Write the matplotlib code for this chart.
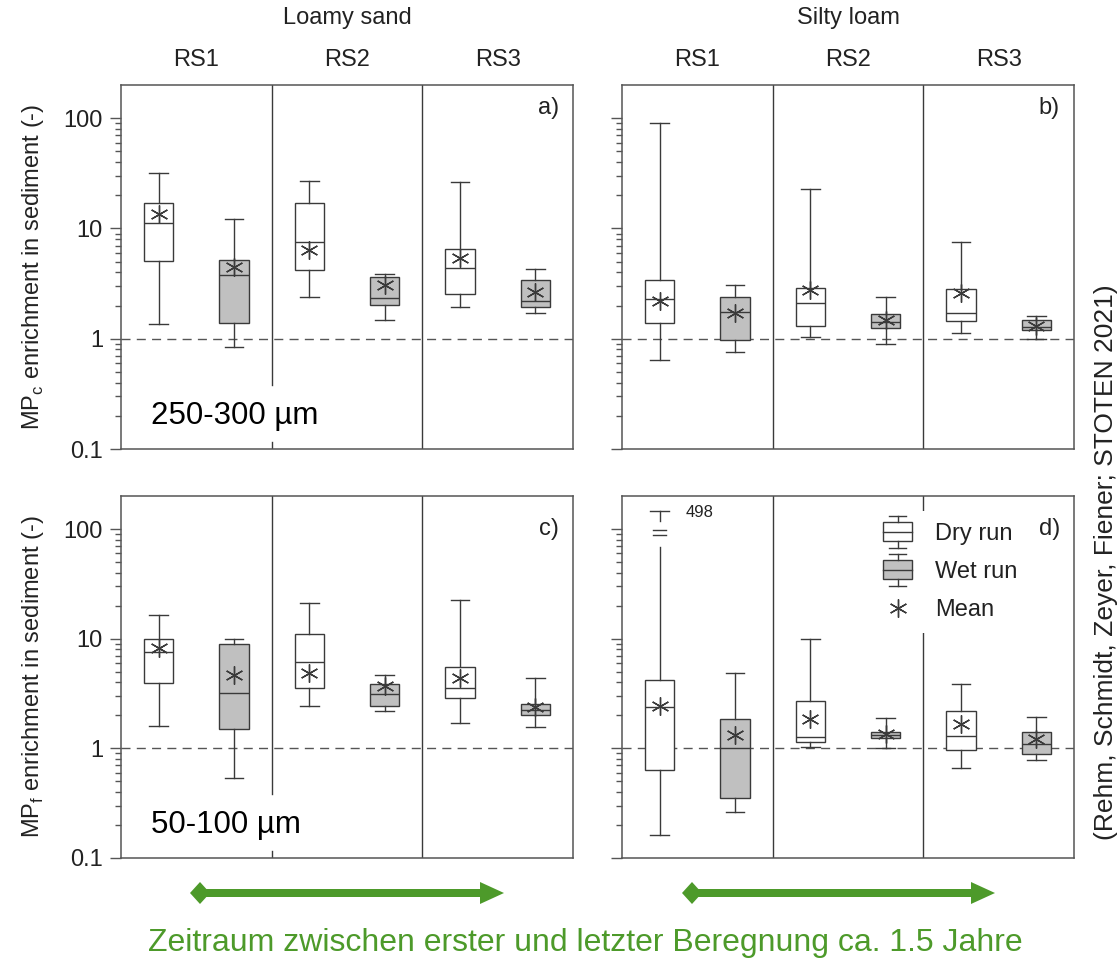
import matplotlib
matplotlib.use('Agg')
import matplotlib.pyplot as plt
import matplotlib.transforms as mtransforms
from matplotlib.patches import Rectangle, Polygon, Patch
from matplotlib.lines import Line2D
from matplotlib.legend_handler import HandlerBase
from matplotlib.ticker import NullFormatter, FixedLocator

plt.rcParams['font.family'] = ['Liberation Sans', 'DejaVu Sans']

# ---- data ----
soils = ['Loamy sand', 'Silty loam']
groups = ['RS1', 'RS2', 'RS3']
# box order: RS1 dry, RS1 wet, RS2 dry, RS2 wet, RS3 dry, RS3 wet

# a) coarse MP, loamy sand
a_lo = [1.36, 0.85, 2.40, 1.48, 1.95, 1.72]
a_q1 = [5.08, 1.38, 4.18, 2.02, 2.57, 1.94]
a_med = [11.1, 3.77, 7.55, 2.36, 4.39, 2.18]
a_q3 = [16.9, 5.22, 16.9, 3.62, 6.48, 3.42]
a_hi = [32.0, 12.2, 26.9, 3.87, 26.2, 4.33]
a_mean = [13.4, 4.45, 6.35, 3.10, 5.44, 2.68]

# b) coarse MP, silty loam
b_lo = [0.64, 0.76, 1.04, 0.90, 1.13, 1.00]
b_q1 = [1.38, 0.97, 1.30, 1.25, 1.46, 1.19]
b_med = [2.27, 1.74, 2.13, 1.41, 1.71, 1.29]
b_q3 = [3.40, 2.38, 2.88, 1.69, 2.85, 1.47]
b_hi = [90.6, 3.06, 22.8, 2.40, 7.50, 1.61]
b_mean = [2.21, 1.71, 2.77, 1.47, 2.59, 1.31]

# c) fine MP, loamy sand
c_lo = [1.60, 0.535, 2.42, 2.21, 1.72, 1.56]
c_q1 = [3.98, 1.51, 3.56, 2.43, 2.85, 2.02]
c_med = [7.5, 3.19, 6.13, 3.13, 3.54, 2.25]
c_q3 = [9.96, 8.97, 11.1, 3.87, 5.52, 2.52]
c_hi = [16.6, 9.9, 21.1, 4.71, 22.3, 4.39]
c_mean = [8.26, 4.67, 4.91, 3.74, 4.42, 2.36]

# d) fine MP, silty loam
d_lo = [0.163, 0.265, 1.02, 1.00, 0.668, 0.779]
d_q1 = [0.637, 0.351, 1.14, 1.25, 0.96, 0.883]
d_med = [2.38, 1.00, 1.28, 1.33, 1.30, 1.10]
d_q3 = [4.21, 1.86, 2.70, 1.41, 2.18, 1.40]
d_hi = [145, 4.87, 9.96, 1.88, 3.87, 1.92]
d_mean = [2.45, 1.33, 1.87, 1.36, 1.65, 1.21]
d_max_label = '498'
d_gap = [69, 118]        # axis break on RS1 dry whisker
d_break_marks = [97, 88]

size_labels = ['250-300 µm', '50-100 µm']
ylabels = ['MP$_\\mathregular{c}$ enrichment in sediment (-)',
           'MP$_\\mathregular{f}$ enrichment in sediment (-)']
panel_tags = ['a)', 'b)', 'c)', 'd)']
major_ticks = [0.1, 1, 10, 100]
minor_ticks = [m * 10.0 ** e for e in (-1, 0, 1) for m in range(2, 10)]

line_c = '#3a3a3a'
wet_c = '#c0c0c0'
green = '#4d9a2a'

W, H = 1120, 961
fig = plt.figure(figsize=(W / 100, H / 100), dpi=100)

ax_a = fig.add_axes([121 / W, 1 - 449 / H, 452 / W, 364 / H])
ax_b = fig.add_axes([622 / W, 1 - 449 / H, 452 / W, 364 / H])
ax_c = fig.add_axes([121 / W, 1 - 858 / H, 452 / W, 362 / H])
ax_d = fig.add_axes([622 / W, 1 - 858 / H, 452 / W, 362 / H])

panels = [
    (ax_a, a_lo, a_q1, a_med, a_q3, a_hi, a_mean),
    (ax_b, b_lo, b_q1, b_med, b_q3, b_hi, b_mean),
    (ax_c, c_lo, c_q1, c_med, c_q3, c_hi, c_mean),
    (ax_d, d_lo, d_q1, d_med, d_q3, d_hi, d_mean),
]

positions = [0.5, 1.5, 2.5, 3.5, 4.5, 5.5]
mean_marker = (6, 2, 0)
bx = {}

for i, (ax, lo, q1, med, q3, hi, mn) in enumerate(panels):
    stats = []
    for k in range(6):
        stats.append(dict(whislo=lo[k], q1=q1[k], med=med[k], q3=q3[k],
                          whishi=hi[k], mean=mn[k], fliers=[]))
    res = ax.bxp(stats, positions=positions, widths=0.385, capwidths=0.25,
                 showmeans=True, patch_artist=True, manage_ticks=False,
                 boxprops=dict(edgecolor=line_c, linewidth=1.0),
                 medianprops=dict(color=line_c, linewidth=1.0),
                 whiskerprops=dict(color=line_c, linewidth=1.0),
                 capprops=dict(color=line_c, linewidth=1.0),
                 meanprops=dict(marker=mean_marker, markersize=13,
                                markeredgecolor=line_c, markerfacecolor=line_c,
                                markeredgewidth=1.0, linestyle='none'))
    for k, b in enumerate(res['boxes']):
        b.set_facecolor('white' if k % 2 == 0 else wet_c)
    bx[i] = res

    ax.set_yscale('log')
    ax.set_xlim(0, 6)
    ax.set_ylim(0.1, 200)
    ax.axhline(1, color='#555555', lw=1.0, ls=(0, (6.5, 4.5)), zorder=1)

    ax.yaxis.set_major_locator(FixedLocator(major_ticks))
    ax.yaxis.set_minor_locator(FixedLocator(minor_ticks))
    ax.yaxis.set_minor_formatter(NullFormatter())
    ax.set_yticklabels(['0.1', '1', '10', '100'])
    ax.set_xticks([])
    ax.tick_params(axis='y', which='major', length=8, width=1, color='#555555',
                   labelsize=17, pad=5, labelcolor='#222222')
    ax.tick_params(axis='y', which='minor', length=4.5, width=1, color='#555555')
    if i in (1, 3):
        ax.tick_params(axis='y', labelleft=False)
    for s in ax.spines.values():
        s.set_color('#555555')
        s.set_linewidth(1.1)

    tag_y = 0.937 if i < 2 else 0.909
    ax.text(0.969, tag_y, panel_tags[i], transform=ax.transAxes,
            ha='right', va='center', fontsize=17, color='#222222')

# section dividers
for ax in (ax_a, ax_c):
    ax.axvline(2, ymin=0.176, ymax=1, color=line_c, lw=1.0, zorder=1)
    ax.axvline(2, ymin=0, ymax=0.02, color=line_c, lw=1.0, zorder=1)
    ax.axvline(4, color=line_c, lw=1.0, zorder=1)
for ax in (ax_b, ax_d):
    ax.axvline(2, color=line_c, lw=1.0, zorder=1)
    ax.axvline(4, color=line_c, lw=1.0, zorder=1)

# column headers
for ax, soil in zip((ax_a, ax_b), soils):
    tr = mtransforms.blended_transform_factory(ax.transData, ax.transAxes)
    ax.text(3, 1.184, soil, transform=tr, ha='center', va='center',
            fontsize=17, color='#222222')
    for g, name in enumerate(groups):
        ax.text(2 * g + 1, 1.069, name, transform=tr, ha='center',
                va='center', fontsize=17, color='#222222')

# y labels and size classes
for ax, lab, sz in zip((ax_a, ax_c), ylabels, size_labels):
    ax.set_ylabel(lab, fontsize=17, color='#222222')
    ax.yaxis.set_label_coords(-0.165, 0.5)
    ax.text(0.066, 0.09, sz, transform=ax.transAxes, ha='left', va='center',
            fontsize=22.5, color='black')

# axis break in d) RS1 dry whisker
wh = bx[3]['whiskers'][1]
wh.set_ydata([d_q3[0], d_gap[0]])
ax_d.plot([0.5, 0.5], [d_gap[1], d_hi[0]], color=line_c, lw=1.0)
for yb in d_break_marks:
    ax_d.plot([0.41, 0.59], [yb, yb], color=line_c, lw=1.0)
ax_d.text(0.84, 140, d_max_label, ha='left', va='center', fontsize=12,
          color='#222222')


# legend with box-style handles
class BoxHandler(HandlerBase):
    def __init__(self, fc):
        super().__init__()
        self.fc = fc

    def create_artists(self, legend, orig_handle, xdescent, ydescent,
                       width, height, fontsize, trans):
        x0 = -xdescent
        cx = x0 + width / 2
        cy = -ydescent + height / 2
        bh = 0.82 * fontsize
        wl = 0.26 * fontsize
        cw = 0.58 * width
        arts = [Rectangle((x0, cy - bh / 2), width, bh, facecolor=self.fc,
                          edgecolor=line_c, lw=1.0, transform=trans)]
        for s in (1, -1):
            arts.append(Line2D([cx, cx], [cy + s * bh / 2, cy + s * (bh / 2 + wl)],
                               color=line_c, lw=1.0, transform=trans))
            arts.append(Line2D([cx - cw / 2, cx + cw / 2], [cy + s * (bh / 2 + wl)] * 2,
                               color=line_c, lw=1.0, transform=trans))
        arts.append(Line2D([x0, x0 + width], [cy, cy], color=line_c, lw=1.0,
                           transform=trans))
        return arts


h_dry = Patch(facecolor='white')
h_wet = Patch(facecolor=wet_c)
h_mean = Line2D([], [], marker=mean_marker, ls='none', ms=13,
                mec=line_c, mew=1.0)
leg = ax_d.legend([h_dry, h_wet, h_mean], ['Dry run', 'Wet run', 'Mean'],
                  handler_map={h_dry: BoxHandler('white'), h_wet: BoxHandler(wet_c)},
                  loc='upper left', bbox_to_anchor=(0.551, 0.958), borderaxespad=0,
                  fontsize=17, handlelength=1.25, handletextpad=0.95,
                  labelspacing=0.68, borderpad=0.5, frameon=True, fancybox=False,
                  facecolor='white', edgecolor='none', framealpha=1)
for t in leg.get_texts():
    t.set_color('#222222')

# green time arrows
px = mtransforms.Affine2D().scale(1 / W, -1 / H).translate(0, 1) + fig.transFigure
arrow_spans = [(190, 504), (682, 995)]
arrow_y = 893
for x0, x1 in arrow_spans:
    dw, dh, hs, hw, hl = 10, 11, 4, 11, 24
    diamond = Polygon([(x0, arrow_y), (x0 + dw, arrow_y - dh), (x0 + 2 * dw, arrow_y),
                       (x0 + dw, arrow_y + dh)], closed=True, transform=px,
                      facecolor=green, edgecolor='none')
    arrow = Polygon([(x0 + dw, arrow_y - hs), (x1 - hl, arrow_y - hs),
                     (x1 - hl, arrow_y - hw), (x1, arrow_y), (x1 - hl, arrow_y + hw),
                     (x1 - hl, arrow_y + hs), (x0 + dw, arrow_y + hs)], closed=True,
                    transform=px, facecolor=green, edgecolor='none')
    fig.patches.extend([diamond, arrow])

fig.text(585 / W, 1 - 943 / H,
         'Zeitraum zwischen erster und letzter Beregnung ca. 1.5 Jahre',
         ha='center', va='center', fontsize=23, color=green)
fig.text(1106 / W, 1 - 562 / H, '(Rehm, Schmidt, Zeyer, Fiener; STOTEN 2021)',
         rotation=90, ha='center', va='center', fontsize=19, color='#222222')

fig.savefig('out.png', dpi=100)
